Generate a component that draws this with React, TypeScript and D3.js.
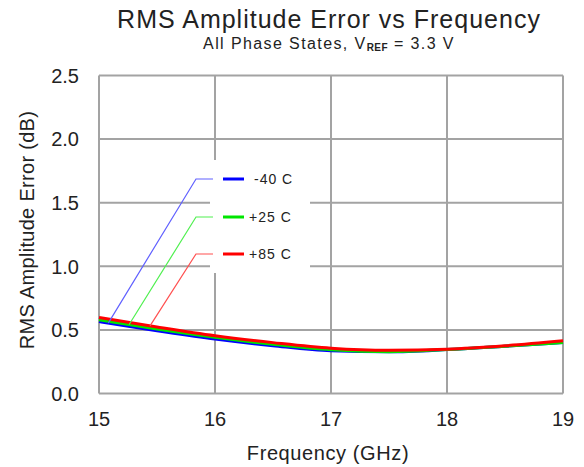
import { scaleLinear, line, curveMonotoneX } from 'd3'

const freqs = [15, 15.5, 16, 16.5, 17, 17.5, 18, 18.5, 19];
const errMinus40 = [0.565, 0.494, 0.428, 0.376, 0.336, 0.328, 0.345, 0.372, 0.4];
const errPlus25 = [0.58, 0.507, 0.442, 0.387, 0.344, 0.329, 0.345, 0.372, 0.4];
const errPlus85 = [0.598, 0.523, 0.454, 0.4, 0.356, 0.34, 0.348, 0.375, 0.414];

const seriesNames = ['-40 C', '+25 C', '+85 C'];
const seriesColors = ['#0000ff', '#00e600', '#ff0000'];
const leaderColors = ['#6060ff', '#50f050', '#ff5050'];
// frequency where each legend leader touches its curve
const leaderFreqs = [15.08, 15.26, 15.44];

const xTicks = [15, 16, 17, 18, 19];
const yTicks = [0, 0.5, 1, 1.5, 2, 2.5];

function valueAt(xs: number[], ys: number[], f: number) {
  for (let i = 0; i < xs.length - 1; i++) {
    if (f >= xs[i] && f <= xs[i + 1]) {
      const t = (f - xs[i]) / (xs[i + 1] - xs[i]);
      return ys[i] + t * (ys[i + 1] - ys[i]);
    }
  }
  return ys[ys.length - 1];
}

function App() {
  const width = 584;
  const height = 467;
  const left = 99;
  const right = 563;
  const top = 75.5;
  const bottom = 393.5;

  const x = scaleLinear().domain([15, 19]).range([left, right]);
  const y = scaleLinear().domain([0, 2.5]).range([bottom, top]);

  const allSeries = [errMinus40, errPlus25, errPlus85];

  const path = line<number>()
    .x((_, i) => x(freqs[i]))
    .y((d) => y(d))
    .curve(curveMonotoneX);

  const font = '"Liberation Sans", Arial, sans-serif';
  const gridColor = '#a3a3a3';

  // legend layout
  const legendRows = [179, 217, 254];
  const elbowX = 196;
  const elbowEnd = 213;

  return (
    <div>
      <svg width={width} height={height} style={{ position: 'absolute', left: 0, top: 0 }} fontFamily={font}>
        <rect width={width} height={height} fill="white" />

        <text x={329} y={28} textAnchor="middle" fontSize={25} letterSpacing={1} fill="#222">
          RMS Amplitude Error vs Frequency
        </text>
        <text x={329} y={48.5} textAnchor="middle" fontSize={16} letterSpacing={1.4} fill="#222">
          All Phase States, V
          <tspan fontSize={10} fontWeight="bold" letterSpacing={0.5} dy={2.5}>REF</tspan>
          <tspan dy={-2.5}> = 3.3 V</tspan>
        </text>

        {/* grid */}
        {xTicks.map((t) => (
          <line key={'gx' + t} x1={x(t)} x2={x(t)} y1={top} y2={bottom} stroke={gridColor} strokeWidth={2} />
        ))}
        {yTicks.map((t) => (
          <line key={'gy' + t} x1={left} x2={right} y1={y(t)} y2={y(t)} stroke={gridColor} strokeWidth={2} />
        ))}

        {/* tick labels */}
        {yTicks.map((t) => (
          <text key={'ty' + t} x={79} y={y(t)} dy="0.36em" textAnchor="end" fontSize={20} fill="#222">
            {t.toFixed(1)}
          </text>
        ))}
        {xTicks.map((t) => (
          <text key={'tx' + t} x={x(t)} y={426} textAnchor="middle" fontSize={20} fill="#222">
            {t}
          </text>
        ))}

        <text x={328} y={460} textAnchor="middle" fontSize={20} letterSpacing={0.6} fill="#222">
          Frequency (GHz)
        </text>
        <text
          transform={`translate(34,230) rotate(-90)`}
          textAnchor="middle"
          fontSize={20}
          letterSpacing={0.3}
          fill="#222"
        >
          RMS Amplitude Error (dB)
        </text>

        {/* curves */}
        {allSeries.map((s, i) => (
          <path key={'s' + i} d={path(s) || ''} fill="none" stroke={seriesColors[i]} strokeWidth={3} />
        ))}

        {/* legend box */}
        <rect x={210} y={160} width={100} height={113} fill="white" />

        {allSeries.map((s, i) => (
          <g key={'lg' + i}>
            <polyline
              points={`${elbowEnd},${legendRows[i]} ${elbowX},${legendRows[i]} ${x(leaderFreqs[i])},${y(
                valueAt(freqs, s, leaderFreqs[i])
              )}`}
              fill="none"
              stroke={leaderColors[i]}
              strokeWidth={1.2}
            />
            <line x1={223} x2={244} y1={legendRows[i]} y2={legendRows[i]} stroke={seriesColors[i]} strokeWidth={3} />
            <text x={i === 0 ? 254 : 249} y={legendRows[i]} dy="0.36em" fontSize={14} letterSpacing={1} fill="#222">
              {seriesNames[i]}
            </text>
          </g>
        ))}
      </svg>
    </div>
  );
}

export default App;
